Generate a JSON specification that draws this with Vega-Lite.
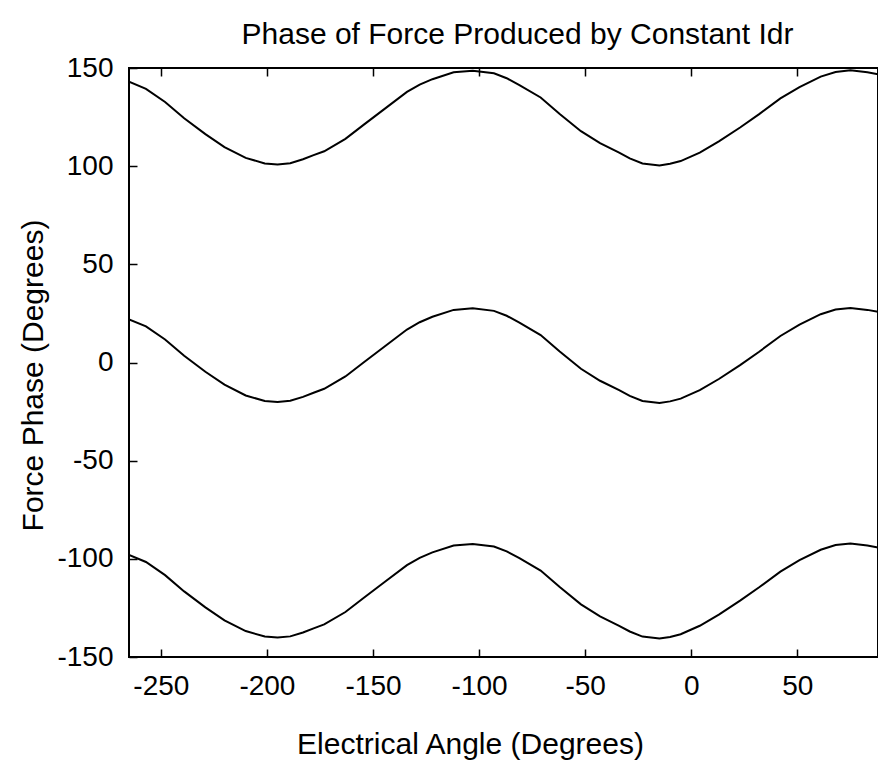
{
  "$schema": "https://vega.github.io/schema/vega-lite/v6.json",
  "autosize": {"type": "none"},
  "padding": {"left": 129, "top": 68, "right": 0, "bottom": 104},
  "width": 749,
  "height": 589,
  "background": "white",
  "title": {"text": "Phase of Force Produced by Constant Idr", "fontSize": 30, "font": "Liberation Sans", "fontWeight": "normal", "color": "black", "offset": 4, "dx": 14},
  "data": {"values": [
    {"a": -265, "top": 143, "mid": 22, "bot": -98},
    {"a": -257, "top": 139.4, "mid": 18.4, "bot": -101.6},
    {"a": -248, "top": 132.7, "mid": 11.7, "bot": -108.3},
    {"a": -239, "top": 124.4, "mid": 3.4, "bot": -116.6},
    {"a": -229, "top": 116.3, "mid": -4.7, "bot": -124.7},
    {"a": -220, "top": 109.7, "mid": -11.3, "bot": -131.3},
    {"a": -210, "top": 104.2, "mid": -16.8, "bot": -136.8},
    {"a": -201, "top": 101.4, "mid": -19.6, "bot": -139.6},
    {"a": -195, "top": 100.9, "mid": -20.1, "bot": -140.1},
    {"a": -189, "top": 101.5, "mid": -19.5, "bot": -139.5},
    {"a": -183, "top": 103.5, "mid": -17.5, "bot": -137.5},
    {"a": -178, "top": 105.6, "mid": -15.4, "bot": -135.4},
    {"a": -173, "top": 107.6, "mid": -13.4, "bot": -133.4},
    {"a": -163, "top": 113.9, "mid": -7.1, "bot": -127.1},
    {"a": -154, "top": 121.4, "mid": 0.4, "bot": -119.6},
    {"a": -145, "top": 128.8, "mid": 7.8, "bot": -112.2},
    {"a": -134, "top": 137.8, "mid": 16.8, "bot": -103.2},
    {"a": -128, "top": 141.5, "mid": 20.5, "bot": -99.5},
    {"a": -122, "top": 144.3, "mid": 23.3, "bot": -96.7},
    {"a": -112, "top": 147.8, "mid": 26.8, "bot": -93.2},
    {"a": -103, "top": 148.6, "mid": 27.6, "bot": -92.4},
    {"a": -93, "top": 147.3, "mid": 26.3, "bot": -93.7},
    {"a": -87, "top": 144.8, "mid": 23.8, "bot": -96.2},
    {"a": -81, "top": 141.3, "mid": 20.3, "bot": -99.7},
    {"a": -71, "top": 135, "mid": 14, "bot": -106},
    {"a": -62, "top": 126.6, "mid": 5.6, "bot": -114.4},
    {"a": -52, "top": 117.8, "mid": -3.2, "bot": -123.2},
    {"a": -43, "top": 111.7, "mid": -9.3, "bot": -129.3},
    {"a": -34, "top": 106.9, "mid": -14.1, "bot": -134.1},
    {"a": -29, "top": 104, "mid": -17, "bot": -137},
    {"a": -23, "top": 101.4, "mid": -19.6, "bot": -139.6},
    {"a": -15, "top": 100.4, "mid": -20.6, "bot": -140.6},
    {"a": -10, "top": 101.2, "mid": -19.8, "bot": -139.8},
    {"a": -5, "top": 102.6, "mid": -18.4, "bot": -138.4},
    {"a": 4, "top": 106.9, "mid": -14.1, "bot": -134.1},
    {"a": 13, "top": 112.6, "mid": -8.4, "bot": -128.4},
    {"a": 23, "top": 119.7, "mid": -1.3, "bot": -121.3},
    {"a": 32, "top": 126.5, "mid": 5.5, "bot": -114.5},
    {"a": 42, "top": 134.5, "mid": 13.5, "bot": -106.5},
    {"a": 51, "top": 140.3, "mid": 19.3, "bot": -100.7},
    {"a": 61, "top": 145.6, "mid": 24.6, "bot": -95.4},
    {"a": 68, "top": 148, "mid": 27, "bot": -93},
    {"a": 75, "top": 148.8, "mid": 27.8, "bot": -92.2},
    {"a": 83, "top": 147.8, "mid": 26.8, "bot": -93.2},
    {"a": 88, "top": 146.8, "mid": 25.8, "bot": -94.2}
  ]},
  "layer": [
    {
      "mark": {"type": "line", "color": "black", "strokeWidth": 2, "clip": true},
      "encoding": {
        "x": {"field": "a", "type": "quantitative", "scale": {"domain": [-265, 88], "nice": false, "zero": false},
              "axis": {"orient": "bottom", "values": [-250, -200, -150, -100, -50, 0, 50], "labelExpr": "datum.value + ''", "title": "Electrical Angle (Degrees)", "labelPadding": 23,
                       "titleX": 341, "titleY": 96, "titleBaseline": "alphabetic", "titleAlign": "center", "titleAnchor": null}},
        "y": {"field": "top", "type": "quantitative", "scale": {"domain": [-150, 150], "nice": false, "zero": false},
              "axis": {"orient": "left", "values": [-150, -100, -50, 0, 50, 100, 150], "labelExpr": "datum.value + ''", "title": "Force Phase (Degrees)", "labelPadding": 24,
                       "titleX": -87, "titleY": 307, "titleBaseline": "alphabetic", "titleAlign": "center", "titleAngle": -90, "titleAnchor": null}}
      }
    },
    {
      "mark": {"type": "line", "color": "black", "strokeWidth": 2, "clip": true},
      "encoding": {
        "x": {"field": "a", "type": "quantitative", "axis": {"orient": "top", "values": [-250, -200, -150, -100, -50, 0, 50], "labels": false, "title": null}},
        "y": {"field": "mid", "type": "quantitative", "axis": null}
      }
    },
    {
      "mark": {"type": "line", "color": "black", "strokeWidth": 2, "clip": true},
      "encoding": {
        "x": {"field": "a", "type": "quantitative", "axis": null},
        "y": {"field": "bot", "type": "quantitative", "axis": null}
      }
    }
  ],
  "resolve": {"axis": {"x": "independent", "y": "independent"}},
  "config": {
    "view": {"stroke": "black", "strokeWidth": 2},
    "axis": {
      "domain": false, "grid": false,
      "tickColor": "black", "tickSize": -8, "tickWidth": 1.5,
      "labelColor": "black", "labelFont": "Liberation Sans", "labelFontSize": 28,
      "titleFont": "Liberation Sans", "titleFontSize": 30, "titleFontWeight": "normal", "titleColor": "black"
    }
  }
}
